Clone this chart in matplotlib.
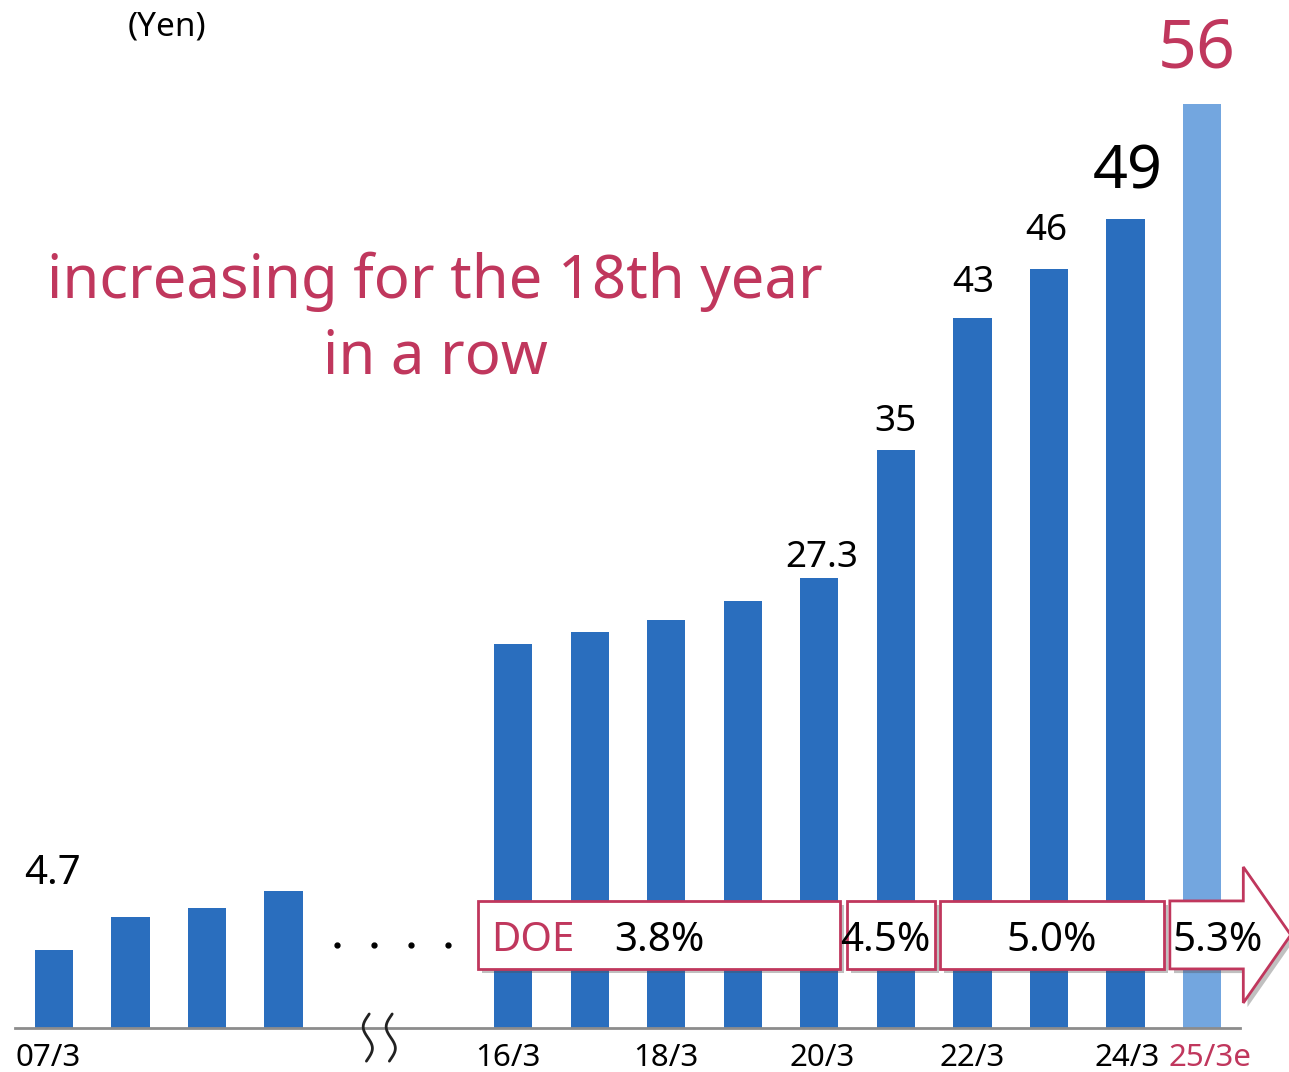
import numpy as np
import matplotlib
matplotlib.use("Agg")
import matplotlib.pyplot as plt
from matplotlib.patches import Rectangle, Polygon
import matplotlib.patheffects as pe

plt.rcParams["font.family"] = ["Noto Sans", "DejaVu Sans"]

# Dividend per share (Yen), fiscal years ending March
positions = [0, 1, 2, 3, 6, 7, 8, 9, 10, 11, 12, 13, 14, 15]
dividends = [4.7, 6.7, 7.3, 8.3, 23.3, 24.0, 24.7, 25.9, 27.3, 35, 43, 46, 49, 56]
value_labels = ["4.7", None, None, None, None, None, None, None, "27.3", "35", "43", "46", "49", "56"]
tick_positions = [0, 6, 8, 10, 12, 14, 15]
tick_labels = ["07/3", "16/3", "18/3", "20/3", "22/3", "24/3", "25/3e"]
doe_rates = ["3.8%", "4.5%", "5.0%", "5.3%"]

BLUE = "#2A6EBE"
LIGHT = "#73A6DF"
RED = "#C0375D"

fig = plt.figure(figsize=(12.89, 10.72), dpi=100)
ax = fig.add_axes([0, 0, 1, 1])
ax.set_xlim(-0.706, 16.137)
ax.set_ylim(-2.667, 62.30)
ax.axis("off")

colors = [BLUE] * (len(dividends) - 1) + [LIGHT]
ax.bar(positions, dividends, width=0.5, color=colors, zorder=2)
ax.plot([-0.51, 15.5], [0, 0], color="#8C8C8C", lw=2, zorder=3)

# value labels: (dx px, dy px, fontsize, color)
label_style = {
    "4.7": (-2, 66, 29, "black"),
    "27.3": (2, 11, 26.5, "black"),
    "35": (0, 19, 26.5, "black"),
    "43": (1, 26, 26.5, "black"),
    "46": (-3, 29, 26.5, "black"),
    "49": (2, 31, 44, "black"),
    "56": (-5, 36, 49, RED),
}
for x, v, lab in zip(positions, dividends, value_labels):
    if lab is None:
        continue
    dx, dy, fs, c = label_style[lab]
    ax.annotate(lab, xy=(x, v), xytext=(dx * 0.72, dy * 0.72), textcoords="offset points",
                ha="center", va="baseline", fontsize=fs, color=c, zorder=5)

# x tick labels
tick_dx = {"07/3": -6, "16/3": -5, "20/3": 3, "24/3": 2, "25/3e": 8}
for x, t in zip(tick_positions, tick_labels):
    ax.annotate(t, xy=(x, 0), xytext=(tick_dx.get(t, 0) * 0.72, -30 * 0.72),
                textcoords="offset points", ha="center", va="center", fontsize=22.5,
                color=RED if t.endswith("e") else "black")

# dots for omitted years
for xd in [3.70, 4.18, 4.66, 5.15]:
    ax.plot(xd, 5.0, "o", color="black", ms=3.5)

# axis break marks
t = np.linspace(-0.05, 1.05, 60)
for xc in [4.10, 4.40]:
    ax.plot(xc - 0.06 * np.sin(2 * np.pi * t), 0.72 - 2.6 * t, color="#222222", lw=2, zorder=4,
            solid_capstyle="round")

# DOE boxes
shadow = [pe.SimplePatchShadow(offset=(3, -3), alpha=0.35), pe.Normal()]
y_lo, y_hi = 3.58, 7.70
boxes = [(5.54, 10.27), (10.36, 11.51), (11.58, 14.50)]
for x0, x1 in boxes:
    r = Rectangle((x0, y_lo), x1 - x0, y_hi - y_lo, facecolor="white", edgecolor=RED, lw=2, zorder=6)
    r.set_path_effects(shadow)
    ax.add_patch(r)
arrow = Polygon([(14.58, y_lo), (15.54, y_lo), (15.54, 1.52), (16.16, 5.64),
                 (15.54, 9.76), (15.54, y_hi), (14.58, y_hi)],
                closed=True, facecolor="white", edgecolor=RED, lw=2, zorder=6)
arrow.set_path_effects(shadow)
ax.add_patch(arrow)

ymid = 5.3
ax.text(6.26, ymid, "DOE", ha="center", va="center", fontsize=29, color=RED, zorder=7)
for xt, rate in zip([7.91, 10.86, 13.04, 15.21], doe_rates):
    ax.text(xt, ymid, rate, ha="center", va="center", fontsize=29, color="black", zorder=7)

# headline
fig.text(435 / 1289, 1 - 298 / 1072, "increasing for the 18th year", ha="center", va="baseline",
         fontsize=43, color=RED)
fig.text(435 / 1289, 1 - 373 / 1072, "in a row", ha="center", va="baseline",
         fontsize=43, color=RED)
fig.text(167 / 1289, 1 - 35 / 1072, "(Yen)", ha="center", va="baseline", fontsize=24, color="black")

fig.savefig("out.png", dpi=100)
